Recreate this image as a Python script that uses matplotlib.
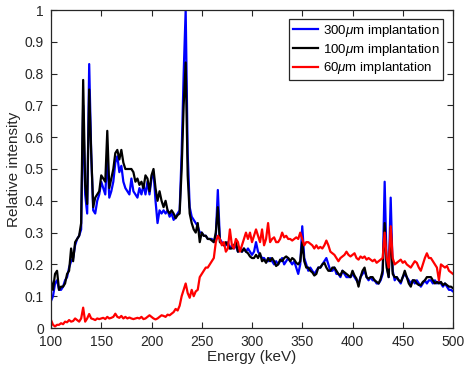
import numpy as np
import matplotlib
matplotlib.use("Agg")
import matplotlib.pyplot as plt

plt.rcParams['font.family'] = ['Liberation Sans', 'DejaVu Sans']
plt.rcParams['mathtext.fontset'] = 'custom'
plt.rcParams['mathtext.it'] = 'Liberation Sans:italic'
plt.rcParams['mathtext.rm'] = 'Liberation Sans'

# Energy grid (keV), 2 keV bins
energy = np.arange(100, 501, 2)

# 300 um implantation (blue)
i300 = [
    0.085, 0.10, 0.14, 0.15, 0.12, 0.12, 0.13, 0.15, 0.16, 0.19,
    0.21, 0.22, 0.26, 0.28, 0.29, 0.31, 0.70, 0.42, 0.36, 0.83,
    0.55, 0.37, 0.36, 0.40, 0.42, 0.46, 0.44, 0.42, 0.54, 0.41,
    0.43, 0.46, 0.52, 0.54, 0.49, 0.51, 0.46, 0.44, 0.43, 0.42,
    0.47, 0.43, 0.42, 0.41, 0.44, 0.42, 0.45, 0.42, 0.46, 0.42,
    0.47, 0.49, 0.40, 0.33, 0.37, 0.36, 0.37, 0.36, 0.37, 0.35,
    0.36, 0.34, 0.35, 0.36, 0.37, 0.55, 0.80, 1.00, 0.55, 0.38,
    0.35, 0.34, 0.33, 0.32, 0.30, 0.30, 0.29, 0.29, 0.28, 0.28,
    0.28, 0.27, 0.29, 0.434, 0.28, 0.27, 0.26, 0.26, 0.27, 0.25,
    0.26, 0.25, 0.26, 0.24, 0.25, 0.24, 0.25, 0.24, 0.25, 0.24,
    0.23, 0.24, 0.27, 0.24, 0.23, 0.22, 0.22, 0.21, 0.21, 0.22,
    0.21, 0.20, 0.21, 0.20, 0.21, 0.22, 0.20, 0.21, 0.22, 0.21,
    0.20, 0.21, 0.19, 0.17, 0.20, 0.32, 0.22, 0.20, 0.18, 0.19,
    0.18, 0.17, 0.18, 0.19, 0.19, 0.20, 0.21, 0.22, 0.20, 0.18,
    0.18, 0.19, 0.17, 0.17, 0.16, 0.18, 0.17, 0.16, 0.16, 0.16,
    0.17, 0.16, 0.15, 0.14, 0.16, 0.17, 0.18, 0.16, 0.15, 0.16,
    0.15, 0.15, 0.14, 0.14, 0.15, 0.17, 0.46, 0.20, 0.16, 0.41,
    0.18, 0.15, 0.16, 0.15, 0.14, 0.16, 0.17, 0.16, 0.15, 0.14,
    0.15, 0.14, 0.15, 0.14, 0.13, 0.14, 0.15, 0.14, 0.15, 0.15,
    0.14, 0.15, 0.14, 0.145, 0.14, 0.13, 0.14, 0.13, 0.12, 0.12,
    0.115,
]

# 100 um implantation (black)
i100 = [
    0.15, 0.12, 0.17, 0.18, 0.12, 0.13, 0.13, 0.14, 0.17, 0.18,
    0.25, 0.21, 0.27, 0.28, 0.29, 0.33, 0.78, 0.45, 0.39, 0.75,
    0.55, 0.38, 0.41, 0.42, 0.43, 0.48, 0.47, 0.46, 0.62, 0.44,
    0.47, 0.50, 0.55, 0.56, 0.53, 0.56, 0.52, 0.50, 0.50, 0.50,
    0.50, 0.49, 0.46, 0.47, 0.45, 0.46, 0.44, 0.48, 0.47, 0.43,
    0.48, 0.50, 0.44, 0.40, 0.43, 0.40, 0.38, 0.40, 0.37, 0.36,
    0.37, 0.36, 0.345, 0.355, 0.36, 0.50, 0.70, 0.835, 0.48, 0.36,
    0.33, 0.31, 0.30, 0.33, 0.27, 0.30, 0.29, 0.29, 0.28, 0.28,
    0.275, 0.27, 0.30, 0.38, 0.27, 0.265, 0.26, 0.27, 0.26, 0.25,
    0.25, 0.26, 0.27, 0.24, 0.245, 0.24, 0.25, 0.24, 0.235, 0.225,
    0.22, 0.22, 0.23, 0.22, 0.235, 0.21, 0.215, 0.205, 0.22, 0.21,
    0.22, 0.21, 0.195, 0.20, 0.215, 0.21, 0.22, 0.225, 0.22, 0.21,
    0.22, 0.215, 0.205, 0.20, 0.21, 0.27, 0.21, 0.19, 0.19, 0.18,
    0.175, 0.165, 0.17, 0.19, 0.19, 0.20, 0.205, 0.19, 0.18, 0.18,
    0.19, 0.19, 0.18, 0.17, 0.165, 0.18, 0.175, 0.17, 0.165, 0.16,
    0.18, 0.165, 0.155, 0.13, 0.16, 0.18, 0.19, 0.16, 0.155, 0.16,
    0.16, 0.15, 0.145, 0.14, 0.155, 0.18, 0.33, 0.19, 0.16, 0.315,
    0.17, 0.16, 0.16, 0.15, 0.145, 0.16, 0.18, 0.16, 0.14, 0.13,
    0.15, 0.15, 0.14, 0.135, 0.135, 0.145, 0.15, 0.16, 0.16, 0.16,
    0.15, 0.14, 0.145, 0.14, 0.145, 0.135, 0.14, 0.135, 0.13, 0.13,
    0.125,
]

# 60 um implantation (red)
i60 = [
    0.025, 0.01, 0.005, 0.01, 0.01, 0.015, 0.012, 0.02, 0.018, 0.025,
    0.02, 0.022, 0.03, 0.025, 0.02, 0.03, 0.064, 0.02, 0.03, 0.044,
    0.03, 0.028, 0.025, 0.03, 0.028, 0.03, 0.032, 0.028, 0.035, 0.03,
    0.032, 0.035, 0.045, 0.035, 0.032, 0.038, 0.03, 0.035, 0.03, 0.033,
    0.03, 0.028, 0.03, 0.032, 0.03, 0.035, 0.028, 0.03, 0.035, 0.04,
    0.035, 0.03, 0.027, 0.03, 0.035, 0.04, 0.038, 0.035, 0.042, 0.04,
    0.045, 0.05, 0.06, 0.055, 0.07, 0.10, 0.12, 0.14, 0.11, 0.095,
    0.12, 0.10, 0.115, 0.12, 0.16, 0.17, 0.18, 0.19, 0.19, 0.20,
    0.21, 0.22, 0.27, 0.29, 0.28, 0.26, 0.27, 0.24, 0.25, 0.31,
    0.26, 0.25, 0.28, 0.27, 0.24, 0.26, 0.28, 0.30, 0.28, 0.30,
    0.27, 0.29, 0.31, 0.29, 0.27, 0.31, 0.26, 0.28, 0.33, 0.27,
    0.28, 0.285, 0.27, 0.27, 0.28, 0.30, 0.285, 0.29, 0.28, 0.28,
    0.275, 0.28, 0.285, 0.28, 0.30, 0.28, 0.26, 0.27, 0.27, 0.265,
    0.26, 0.25, 0.26, 0.25, 0.255, 0.25, 0.26, 0.275, 0.26, 0.24,
    0.235, 0.23, 0.22, 0.21, 0.22, 0.225, 0.23, 0.24, 0.23, 0.225,
    0.23, 0.235, 0.22, 0.215, 0.225, 0.22, 0.225, 0.215, 0.22, 0.215,
    0.21, 0.215, 0.205, 0.21, 0.215, 0.22, 0.30, 0.22, 0.19, 0.32,
    0.22, 0.20, 0.205, 0.21, 0.215, 0.205, 0.21, 0.20, 0.195, 0.19,
    0.20, 0.21, 0.205, 0.19, 0.18, 0.20, 0.22, 0.235, 0.22, 0.22,
    0.21, 0.20, 0.19, 0.15, 0.20, 0.195, 0.19, 0.195, 0.18, 0.175,
    0.17,
]

labels = [r'300$\mu$m implantation', r'100$\mu$m implantation', r'60$\mu$m implantation']
colors = ['#0000ff', '#000000', '#ff0000']

fig = plt.figure(figsize=(4.69, 3.77), dpi=100)
ax = fig.add_axes([51/469, 49/377, 402/469, 318/377])

for series, lab, col in zip([i300, i100, i60], labels, colors):
    ax.plot(energy, series, color=col, lw=1.6, label=lab)

ax.set_xlim(100, 500)
ax.set_ylim(0, 1)
ax.set_xticks(np.arange(100, 501, 50))
ax.set_yticks(np.arange(0, 1.01, 0.1))
ax.set_yticklabels(['0', '0.1', '0.2', '0.3', '0.4', '0.5', '0.6', '0.7', '0.8', '0.9', '1'])
ax.tick_params(direction='in', length=4.5, width=0.8, top=True, right=True,
               labelsize=10, colors='#262626')
ax.tick_params(axis='x', pad=5)
ax.tick_params(axis='y', pad=5)
for s in ax.spines.values():
    s.set_color('#262626')
    s.set_linewidth(0.9)

ax.set_xlabel('Energy (keV)', fontsize=11, color='#262626', labelpad=1)
ax.set_ylabel('Relative intensity', fontsize=11, color='#262626', labelpad=3)

leg = ax.legend(loc='upper right', bbox_to_anchor=(0.976, 0.972), borderaxespad=0,
                fontsize=9.5, fancybox=False, framealpha=1, edgecolor='#262626',
                handlelength=1.9, handletextpad=0.35, borderpad=0.3, labelspacing=0.2)
leg.get_frame().set_linewidth(0.9)

fig.savefig('out.png', dpi=100)
